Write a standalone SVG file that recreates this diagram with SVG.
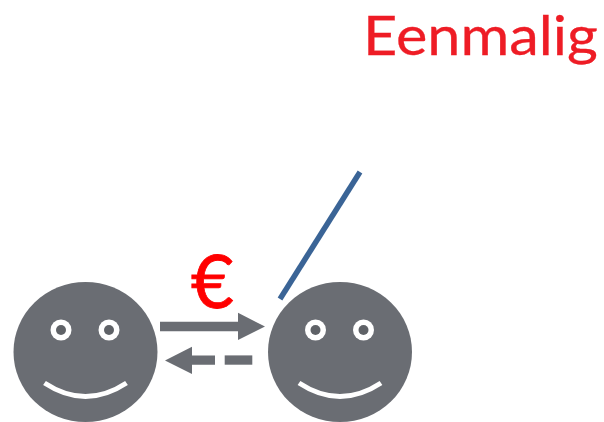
<svg xmlns="http://www.w3.org/2000/svg" width="604" height="422" viewBox="0 0 604 422">
<style>
.head{fill:#6a6d73}
.eye{fill:#fff}
.pupil{fill:#5f6267}
.smile{fill:none;stroke:#fff;stroke-width:5}
.arrow{fill:#6a6d73}
text{font-family:"Lato","Open Sans","Liberation Sans",sans-serif}
</style>
<defs>
<g id="face">
<ellipse class="head" cx="0" cy="0" rx="72" ry="70"/>
<circle class="eye" cx="-24.500" cy="-22" r="10.500"/>
<circle class="pupil" cx="-24.500" cy="-22" r="5"/>
<circle class="eye" cx="23.500" cy="-22" r="10.500"/>
<circle class="pupil" cx="23.500" cy="-22" r="5"/>
<path class="smile" d="M-41 31Q0 58 41 31"/>
</g>
</defs>
<g id="node-left"><use href="#face" transform="translate(85.500 352)"/></g>
<g id="node-right"><use href="#face" transform="translate(340 352)"/></g>
<g id="connectors">
<path class="arrow" d="M160 321.700H238V312.700L265 326.500L238 340V331.300H160Z"/>
<path class="arrow" d="M165 360.500L192 346.700V355.400H215V364.700H192V374Z"/>
<rect class="arrow" x="224.700" y="355.400" width="27.600" height="9.300"/>
<line x1="280" y1="299" x2="360" y2="172" stroke="#3a6496" stroke-width="5.500"/>
</g>
<text id="label-title" x="363" y="54.500" font-size="55" fill="#ee1c25" stroke="#ee1c25" stroke-width="0.300" textLength="235" lengthAdjust="spacingAndGlyphs">Eenmalig</text>
<text id="label-euro" x="191" y="308" font-size="74" fill="#ff0000" stroke="#ff0000" stroke-width="0.800">€</text>
</svg>
